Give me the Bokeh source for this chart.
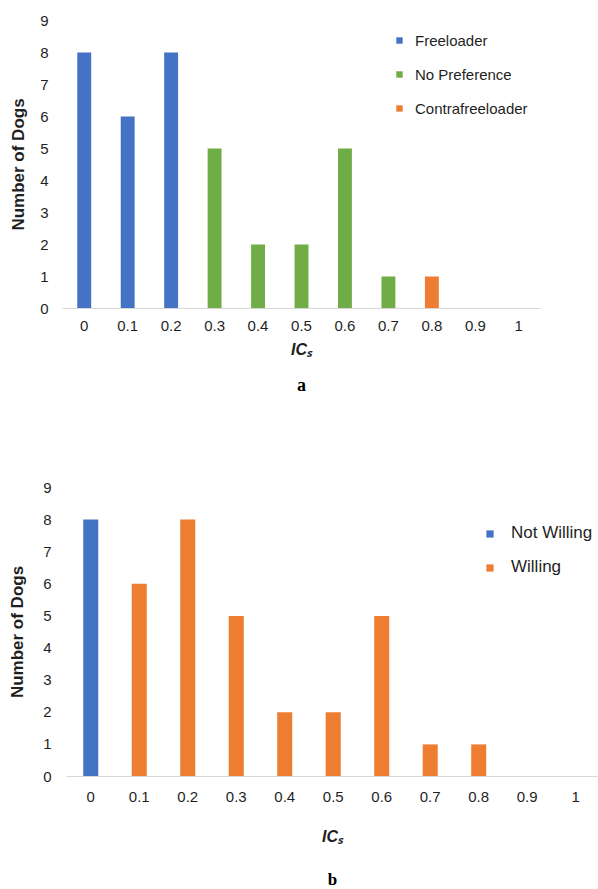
from bokeh.plotting import figure
from bokeh.models import Range1d, FixedTicker, Legend, LegendItem, Title
from bokeh.layouts import column
from bokeh.embed import file_html
from bokeh.resources import INLINE

# ---------------- data ----------------
ic_labels = ["0", "0.1", "0.2", "0.3", "0.4", "0.5", "0.6", "0.7", "0.8", "0.9", "1"]
counts_a = [8, 6, 8, 5, 2, 2, 5, 1, 1, 0, 0]
groups_a = ["Freeloader", "Freeloader", "Freeloader",
            "No Preference", "No Preference", "No Preference", "No Preference", "No Preference",
            "Contrafreeloader", "Contrafreeloader", "Contrafreeloader"]
counts_b = [8, 6, 8, 5, 2, 2, 5, 1, 1, 0, 0]
groups_b = ["Not Willing"] + ["Willing"] * 10
y_ticks = [0, 1, 2, 3, 4, 5, 6, 7, 8, 9]

legend_order_a = ["Freeloader", "No Preference", "Contrafreeloader"]
legend_order_b = ["Not Willing", "Willing"]
colors = {"Freeloader": "#4472C4", "No Preference": "#70AD47", "Contrafreeloader": "#ED7D31",
          "Not Willing": "#4472C4", "Willing": "#ED7D31"}

FONT = "Liberation Sans"
TEXT = "#1f1f1f"


def make_panel(counts, groups, order, width, height, borders, x_end, bar_w,
               leg_loc, leg_standoff, leg_glyph, leg_font,
               ystand, ylab_stand, xstand, xlab_stand, tag, tag_stand, tag_off, tag_size):
    bl, br, bt, bb = borders
    p = figure(width=width, height=height, output_backend="svg", toolbar_location=None,
               x_range=Range1d(-0.5, x_end), y_range=Range1d(0, 9),
               min_border_left=bl, min_border_right=br, min_border_top=bt, min_border_bottom=bb)
    p.outline_line_color = None
    p.grid.visible = False
    p.background_fill_color = "white"
    p.border_fill_color = "white"

    xs = list(range(len(ic_labels)))
    items = []
    for g in order:
        gx = [x for x, gg in zip(xs, groups) if gg == g]
        gy = [c for c, gg in zip(counts, groups) if gg == g]
        r = p.vbar(x=gx, top=gy, width=bar_w, bottom=0, fill_color=colors[g], line_color=None)
        items.append(LegendItem(label=g, renderers=[r]))

    leg = Legend(items=items, location=leg_loc, orientation="vertical",
                 label_text_font=FONT, label_text_font_size=leg_font, label_text_color=TEXT,
                 glyph_width=leg_glyph, glyph_height=leg_glyph, label_height=20, spacing=14,
                 label_standoff=leg_standoff, padding=0, margin=0,
                 border_line_color=None, background_fill_alpha=0)
    p.add_layout(leg)

    xa = p.xaxis[0]
    xa.ticker = FixedTicker(ticks=xs)
    xa.major_label_overrides = {i: t for i, t in enumerate(ic_labels)}
    xa.axis_line_color = "#d9d9d9"
    xa.axis_line_width = 1.2
    xa.major_tick_line_color = None
    xa.minor_tick_line_color = None
    xa.major_tick_out = 0
    xa.major_tick_in = 0
    xa.minor_tick_out = 0
    xa.major_label_text_font = FONT
    xa.major_label_text_font_size = "15px"
    xa.major_label_text_color = TEXT
    xa.major_label_standoff = xstand
    xa.axis_label = "IC\u209b"
    xa.axis_label_text_font = FONT
    xa.axis_label_text_font_size = "16px"
    xa.axis_label_text_font_style = "bold italic"
    xa.axis_label_text_color = TEXT
    xa.axis_label_standoff = xlab_stand

    ya = p.yaxis[0]
    ya.ticker = FixedTicker(ticks=y_ticks)
    ya.axis_line_color = None
    ya.major_tick_line_color = None
    ya.minor_tick_line_color = None
    ya.major_tick_out = 0
    ya.major_tick_in = 0
    ya.minor_tick_out = 0
    ya.major_label_text_font = FONT
    ya.major_label_text_font_size = "15px"
    ya.major_label_text_color = TEXT
    ya.major_label_standoff = ystand
    ya.axis_label = "Number of Dogs"
    ya.axis_label_text_font = FONT
    ya.axis_label_text_font_size = "17px"
    ya.axis_label_text_font_style = "bold"
    ya.axis_label_text_color = TEXT
    ya.axis_label_standoff = ylab_stand

    p.add_layout(Title(text=tag, align="center", offset=tag_off, standoff=tag_stand,
                       text_font="Liberation Serif", text_font_size=tag_size,
                       text_font_style="bold", text_color="black"), "below")

    if "frame_align" in p.properties():
        p.frame_align = False
    return p


pa = make_panel(counts_a, groups_a, legend_order_a, 598, 410, (62, 58, 20, 102), 10.5, 0.32,
                (333, 190), 12, 8, "15px", 14, 9, 12, 7, "a", 24, 0, "18px")
pb = make_panel(counts_b, groups_b, legend_order_b, 598, 510, (66, 0, 77, 144), 10.47, 0.31,
                (419, 199), 17, 9, "17px", 15, 13, 15, 23, "b", 40, -25, "17px")

layout = column(pa, pb, spacing=0)
open("out.html", "w").write(file_html(layout, INLINE))
